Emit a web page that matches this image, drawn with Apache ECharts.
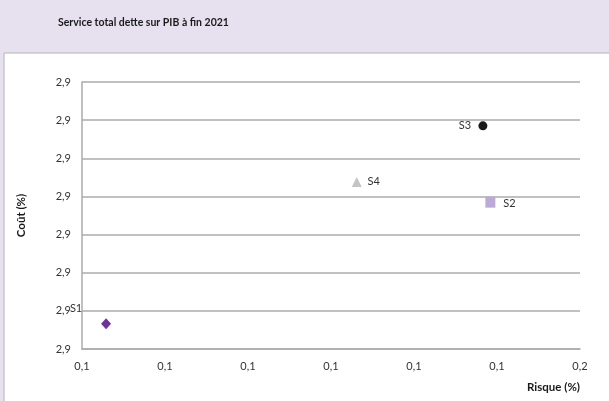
<!DOCTYPE html>
<html>
<head>
<meta charset="utf-8">
<script src="https://cdn.jsdelivr.net/npm/echarts@6/dist/echarts.min.js"></script>
<style>
  html, body { margin: 0; padding: 0; background: #E7E1EF; }
  #chart { width: 609px; height: 401px; }
</style>
</head>
<body>
<div id="chart"></div>
<script>
// Scenario names and their (risk, cost) coordinates
const scenarios = ['S1', 'S2', 'S3', 'S4'];
const risque = [0.0929, 0.1392, 0.1383, 0.1231];
const cout = [2.8666, 2.8985, 2.9185, 2.9038];

// Displayed tick labels (one decimal, French notation)
const xTickLabels = ['0,1', '0,1', '0,1', '0,1', '0,1', '0,1', '0,2'];
const yTickLabels = ['2,9', '2,9', '2,9', '2,9', '2,9', '2,9', '2,9', '2,9'];

const markerStyles = [
  { symbol: 'diamond', size: [10, 11], color: '#7030A0', offset: [-30, -15] },
  { symbol: 'rect', size: [10, 11], color: '#BBAAD8', offset: [19, 1] },
  { symbol: 'circle', size: 9, color: '#1A1A1A', offset: [-18, 0] },
  { symbol: 'triangle', size: [10, 10], color: '#C4C4C4', offset: [17, 0] }
];

const FONT = 'Lato, "Open Sans", sans-serif';

const chart = echarts.init(document.getElementById('chart'));

chart.setOption({
  animation: false,
  backgroundColor: '#E7E1EF',
  graphic: [{
    type: 'rect',
    z: -10,
    shape: { x: 4, y: 53, width: 640, height: 400 },
    style: { fill: '#FFFFFF', stroke: '#B3B3B3', lineWidth: 1 }
  }],
  title: {
    text: 'Service total dette sur PIB à fin 2021',
    left: 53,
    top: 12,
    textStyle: { fontFamily: FONT, fontSize: 10.5, fontWeight: 'bold', color: '#1a1a1a' }
  },
  grid: { left: 82, right: 29, top: 82, bottom: 52 },
  xAxis: {
    type: 'value',
    min: 0.09,
    max: 0.15,
    interval: 0.01,
    name: 'Risque (%)',
    nameLocation: 'end',
    nameGap: 0,
    nameTextStyle: {
      fontFamily: FONT, fontSize: 11.5, fontWeight: 'bold', color: '#1a1a1a',
      align: 'right', verticalAlign: 'top', padding: [32, 0, 0, 0]
    },
    axisLine: { show: true, lineStyle: { color: '#ABABAB', width: 1.5 } },
    axisTick: { show: false },
    splitLine: { show: false },
    axisLabel: {
      margin: 12,
      fontFamily: FONT, fontSize: 11, color: '#333',
      formatter: (v, i) => xTickLabels[i]
    }
  },
  yAxis: {
    type: 'value',
    min: 2.86,
    max: 2.93,
    interval: 0.01,
    name: 'Coût (%)',
    nameLocation: 'middle',
    nameRotate: 90,
    nameGap: 55,
    nameTextStyle: { fontFamily: FONT, fontSize: 11.5, fontWeight: 'bold', color: '#1a1a1a' },
    axisLine: { show: true, lineStyle: { color: '#ABABAB', width: 1.5 } },
    axisTick: { show: false },
    splitLine: { show: true, lineStyle: { color: '#ABABAB', width: 1.5 } },
    axisLabel: {
      margin: 11,
      fontFamily: FONT, fontSize: 11, color: '#333',
      formatter: (v, i) => yTickLabels[i]
    }
  },
  series: scenarios.map((name, i) => ({
    type: 'scatter',
    name: name,
    symbol: markerStyles[i].symbol,
    symbolSize: markerStyles[i].size,
    itemStyle: { color: markerStyles[i].color, opacity: 1 },
    label: {
      show: true,
      position: 'inside',
      offset: markerStyles[i].offset,
      formatter: name,
      fontFamily: FONT, fontSize: 11, color: '#333'
    },
    data: [[risque[i], cout[i]]]
  }))
});
</script>
</body>
</html>
